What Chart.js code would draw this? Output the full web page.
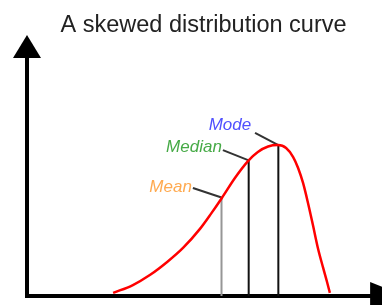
<!DOCTYPE html>
<html>
<head>
<meta charset="utf-8">
<script src="https://cdn.jsdelivr.net/npm/chart.js@4/dist/chart.umd.min.js"></script>
<style>
html,body{margin:0;padding:0;background:#fff;}
canvas{display:block;}
</style>
</head>
<body>
<canvas id="c" width="382" height="305"></canvas>
<script>
// ---- data ----
const curveX = [24.4, 30.0, 34.8, 39.7, 44.2, 49.0, 52.1, 55.2, 58.9, 62.6, 65.4, 68.3, 71.1, 73.4, 75.4, 76.8, 78.2, 79.6, 81.0, 82.4, 83.9, 85.0, 85.8];
const curveY = [1.3, 4.6, 8.8, 14.3, 20.2, 28.2, 34.5, 41.2, 49.6, 56.7, 60.5, 62.8, 63.4, 62.2, 58.4, 53.8, 47.5, 39.1, 29.8, 20.2, 11.8, 5.9, 1.3];

const statNames = ['Mean', 'Median', 'Mode'];
const statX = [55.1, 62.8, 71.2];
const statY = [41.4, 57.0, 63.4];

// leader lines: start point (near label) -> end point (on curve)
const leaderStartX = [47.0, 55.5, 64.6];
const leaderStartY = [45.4, 61.3, 68.5];
// label anchors (right edge of text)
const labelX = [46.7, 55.2, 63.5];
const labelY = [45.8, 62.6, 71.8];

const titleText = 'A skewed distribution curve';

// ---- styles ----
const labelColors = ['rgb(255,170,80)', 'rgb(70,170,70)', 'rgb(80,80,255)'];
const statLineColors = ['rgb(150,150,150)', '#111', '#111'];

const curveData = curveX.map((x, i) => ({x: x, y: curveY[i]}));

const datasets = [{
  data: curveData,
  borderColor: '#ff0000',
  borderWidth: 2.5,
  showLine: true,
  pointRadius: 0,
  cubicInterpolationMode: 'monotone'
}];
statX.forEach((x, i) => {
  datasets.push({
    data: [{x: x, y: 0}, {x: x, y: statY[i]}],
    borderColor: statLineColors[i],
    borderWidth: 2,
    showLine: true,
    pointRadius: 0
  });
});
statX.forEach((x, i) => {
  datasets.push({
    data: [{x: leaderStartX[i], y: leaderStartY[i]}, {x: x, y: statY[i]}],
    borderColor: '#333',
    borderWidth: 2,
    showLine: true,
    pointRadius: 0
  });
});

const extras = {
  id: 'extras',
  afterDraw(chart) {
    const ctx = chart.ctx;
    const xs = chart.scales.x, ys = chart.scales.y;
    // labels
    ctx.save();
    ctx.font = 'italic 17px "Liberation Sans", Arial, sans-serif';
    ctx.textAlign = 'right';
    ctx.textBaseline = 'middle';
    statNames.forEach((n, i) => {
      ctx.fillStyle = labelColors[i];
      ctx.fillText(n, xs.getPixelForValue(labelX[i]), ys.getPixelForValue(labelY[i]));
    });
    // arrow heads
    ctx.fillStyle = '#000';
    const ax = xs.left, ay = ys.top;
    ctx.beginPath();
    ctx.moveTo(ax, ay - 23);
    ctx.lineTo(ax - 14, ay);
    ctx.lineTo(ax + 14, ay);
    ctx.closePath();
    ctx.fill();
    const bx = xs.getPixelForValue(97.2), by = ys.bottom;
    ctx.beginPath();
    ctx.moveTo(bx + 35, by);
    ctx.lineTo(bx, by - 14);
    ctx.lineTo(bx, by + 14);
    ctx.closePath();
    ctx.fill();
    ctx.restore();
  }
};

new Chart(document.getElementById('c'), {
  type: 'scatter',
  data: {datasets: datasets},
  options: {
    responsive: false,
    animation: false,
    layout: {padding: {left: 27, right: 2, top: 0, bottom: 9}},
    plugins: {
      legend: {display: false},
      tooltip: {enabled: false},
      title: {
        display: true,
        text: titleText,
        color: '#222',
        font: {family: '"Liberation Sans", Arial, sans-serif', size: 23.5, weight: 'normal'},
        padding: {top: 11, bottom: 18.8}
      }
    },
    scales: {
      x: {
        type: 'linear', min: 0, max: 100, z: 1,
        grid: {display: false, drawTicks: false},
        ticks: {display: false},
        border: {display: true, color: '#000', width: 4}
      },
      y: {
        type: 'linear', min: 0, max: 100, z: 1,
        grid: {display: false, drawTicks: false},
        ticks: {display: false},
        border: {display: true, color: '#000', width: 4}
      }
    }
  },
  plugins: [extras]
});
</script>
</body>
</html>
